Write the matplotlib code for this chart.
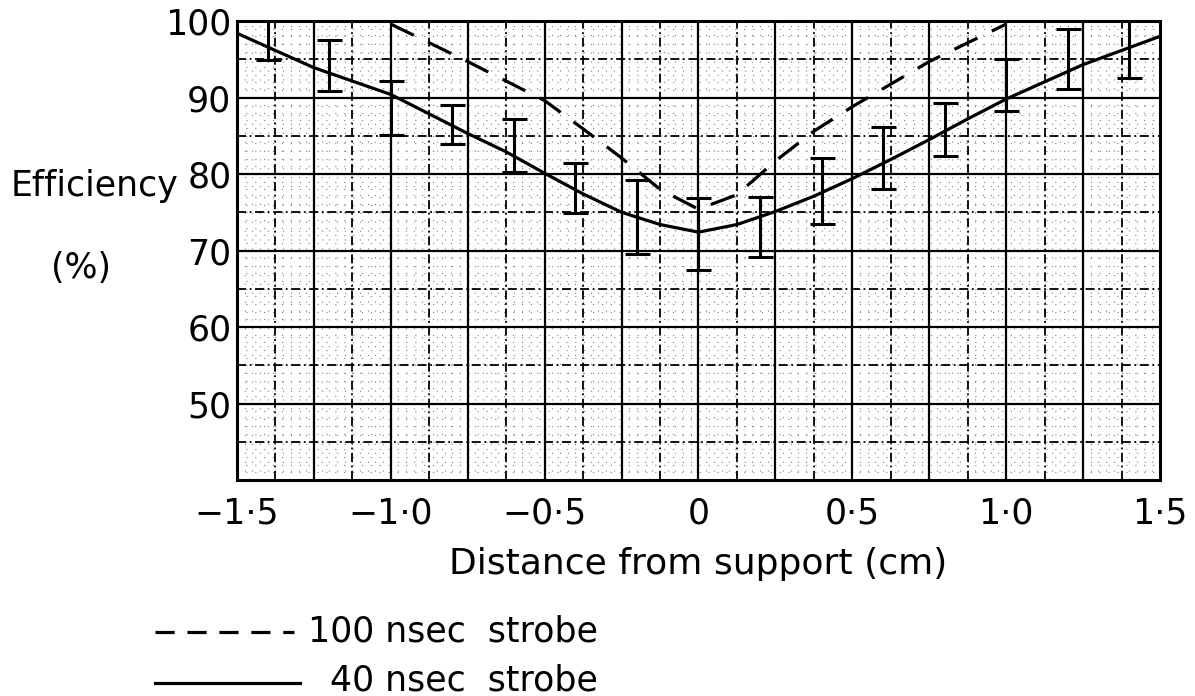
import numpy as np
import matplotlib
matplotlib.use("Agg")
import matplotlib.pyplot as plt
from matplotlib.lines import Line2D
from matplotlib.ticker import FixedLocator, FuncFormatter

# 40 nsec strobe (solid curve)
solid_x = [-1.5, -1.25, -1.0, -0.75, -0.625, -0.5, -0.375, -0.25, -0.125, 0,
           0.125, 0.25, 0.375, 0.5, 0.625, 0.75, 0.875, 1.0, 1.25, 1.5]
solid_y = [98.4, 93.9, 90.4, 85.3, 82.9, 80.1, 77.4, 75.0, 73.4, 72.4,
           73.4, 75.1, 77.1, 79.4, 81.9, 84.5, 87.2, 89.8, 94.3, 98.0]

# 100 nsec strobe (dashed curve)
dash_x = [-1.0, -0.75, -0.5, -0.375, -0.25, -0.125, 0, 0.125, 0.25, 0.375, 0.5, 0.75, 1.0]
dash_y = [99.6, 94.7, 89.6, 85.9, 82.1, 78.0, 75.4, 77.3, 81.7, 85.6, 88.8, 94.7, 99.6]

# measured points: lower / upper ends of error bars
eb_x = [-1.4, -1.2, -1.0, -0.8, -0.6, -0.4, -0.2, 0, 0.2, 0.4, 0.6, 0.8, 1.0, 1.2, 1.4]
eb_lo = [94.9, 90.9, 85.1, 83.9, 80.2, 74.9, 69.5, 67.5, 69.2, 73.5, 78.1, 82.3, 88.2, 91.1, 92.6]
eb_hi = [100.5, 97.5, 92.1, 89.0, 87.2, 81.5, 79.2, 76.9, 77.0, 82.1, 86.2, 89.3, 95.1, 99.0, 101.5]

x_ticks = [-1.5, -1.0, -0.5, 0, 0.5, 1.0, 1.5]
y_ticks = [50, 60, 70, 80, 90, 100]

plt.rcParams['font.family'] = ['DejaVu Sans']
fig = plt.figure(figsize=(11.95, 6.96), dpi=100)
ax = fig.add_axes([0.1983, 0.3103, 0.7724, 0.6595])
ax.set_xlim(-1.5, 1.5)
ax.set_ylim(40, 100)

# graph paper grid
for v in np.arange(-1.5, 1.5001, 0.025):
    ax.axvline(v, color='0.5', lw=0.8, ls=(0, (1, 7)), zorder=0)
for v in np.arange(40, 100.01, 1):
    ax.axhline(v, color='0.5', lw=0.8, ls=(0, (1, 7)), zorder=0)
for v in np.arange(-1.375, 1.5, 0.25):
    ax.axvline(v, color='k', lw=1.3, ls=(0, (5, 2, 1, 2)), zorder=1)
for v in np.arange(45, 100, 10):
    ax.axhline(v, color='k', lw=1.3, ls=(0, (5, 2, 1, 2)), zorder=1)
for v in np.arange(-1.25, 1.5, 0.25):
    ax.axvline(v, color='k', lw=1.6, zorder=1)
for v in np.arange(50, 100, 10):
    ax.axhline(v, color='k', lw=1.6, zorder=1)

ax.plot(solid_x, solid_y, color='k', lw=2.3, zorder=3)
ax.plot(dash_x, dash_y, color='k', lw=2.3, dashes=(8, 5), zorder=3)

mid = [(a + b) / 2 for a, b in zip(eb_lo, eb_hi)]
half = [(b - a) / 2 for a, b in zip(eb_lo, eb_hi)]
ax.errorbar(eb_x, mid, yerr=half, fmt='none', ecolor='k', elinewidth=2.2,
            capsize=9, capthick=2.2, zorder=4)

for s in ax.spines.values():
    s.set_linewidth(2.2)

ax.xaxis.set_major_locator(FixedLocator(x_ticks))
ax.yaxis.set_major_locator(FixedLocator(y_ticks))


def fmt_x(v, pos):
    if abs(v) < 1e-9:
        return '0'
    s = '%.1f' % abs(v)
    return ('\u2212' if v < 0 else '') + s.replace('.', '\u00b7')


ax.xaxis.set_major_formatter(FuncFormatter(fmt_x))
ax.tick_params(axis='both', length=0, labelsize=25)
ax.tick_params(axis='x', pad=12)
ax.tick_params(axis='y', pad=4)

ax.set_xlabel('Distance from support (cm)', fontsize=26, labelpad=12)
fig.text(0.079, 0.733, 'Efficiency', fontsize=25, ha='center', va='center')
fig.text(0.068, 0.615, '(%)', fontsize=25, ha='center', va='center')

# legend drawn below the plot
fig.add_artist(Line2D([0.130, 0.246], [0.092, 0.092], color='k', lw=2.3, dashes=(6, 4),
                      transform=fig.transFigure))
fig.add_artist(Line2D([0.130, 0.251], [0.019, 0.019], color='k', lw=2.3,
                      transform=fig.transFigure))
fig.text(0.500, 0.092, '100 nsec  strobe', fontsize=25, ha='right', va='center')
fig.text(0.500, 0.022, '40 nsec  strobe', fontsize=25, ha='right', va='center')

fig.savefig('out.png', dpi=100)
